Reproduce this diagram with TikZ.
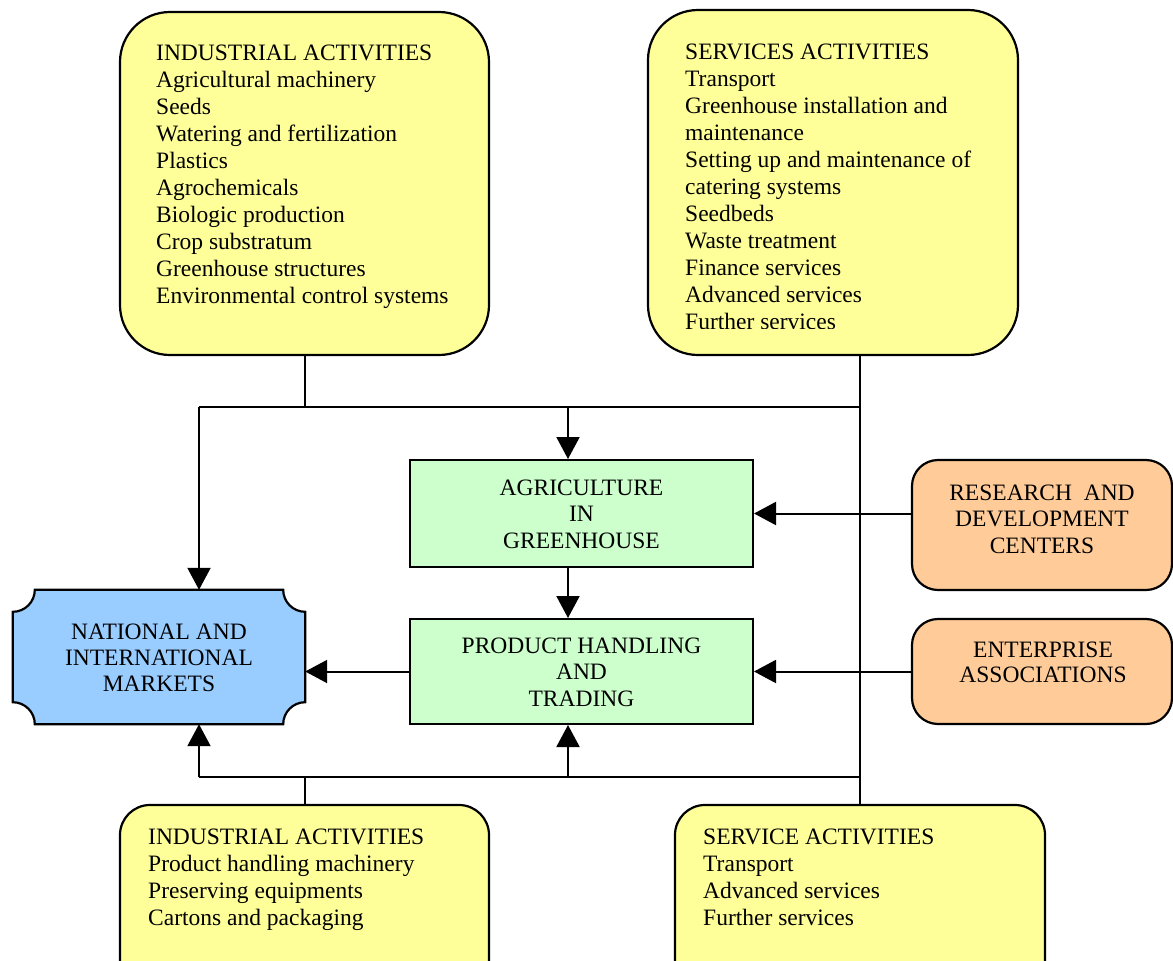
\documentclass[tikz,border=0pt]{standalone}
\usepackage{fontspec}
\setmainfont{Liberation Serif}
\usetikzlibrary{arrows.meta,calc}
\definecolor{yel}{HTML}{FFFF99}
\definecolor{grn}{HTML}{CCFFCC}
\definecolor{blu}{HTML}{99CCFF}
\definecolor{org}{HTML}{FFCC99}
\begin{document}
\begin{tikzpicture}[x=1pt,y=-1pt,
  box/.style={draw=black, line width=2.2pt, inner sep=0pt},
  ybox/.style={box, fill=yel},
  gbox/.style={box, fill=grn, line width=2pt},
  obox/.style={box, fill=org, rounded corners=26pt},
  txt/.style={inner sep=0pt, font=\fontsize{23.5}{27}\selectfont},
  ltxt/.style={txt, align=left, anchor=base west},
  ctxt/.style={txt, align=center, anchor=base},
  conn/.style={line width=2pt},
  arr/.style={conn, -{Triangle[length=22pt,width=23pt]}}]
\useasboundingbox (0,0) rectangle (1173,961);
\clip (0,0) rectangle (1173,961);

% boxes
\node[ybox, rounded corners=50pt, minimum width=369pt, minimum height=343pt] (tl) at (304.5,183.5) {};
\node[ybox, rounded corners=50pt, minimum width=370pt, minimum height=345pt] (tr) at (833,182.5) {};
\node[gbox, minimum width=343pt, minimum height=107pt] (ag) at (581.5,513.5) {};
\node[gbox, minimum width=343pt, minimum height=105pt] (ph) at (581.5,671.5) {};
\node[inner sep=0pt, minimum width=292pt, minimum height=134pt] (mk) at (159,657) {};
\draw[fill=blu, line width=2.2pt] ($(mk.north west)+(22,0)$) -- ($(mk.north east)+(-22,0)$)
  arc[start angle=180,end angle=90,radius=22] -- ($(mk.south east)+(0,-22)$)
  arc[start angle=270,end angle=180,radius=22] -- ($(mk.south west)+(22,0)$)
  arc[start angle=0,end angle=-90,radius=22] -- ($(mk.north west)+(0,22)$)
  arc[start angle=90,end angle=0,radius=22] -- cycle;
\node[obox, minimum width=260pt, minimum height=130pt] (rd) at (1042,525) {};
\node[obox, minimum width=260pt, minimum height=105pt] (ea) at (1042,671.5) {};
\node[ybox, rounded corners=30pt, minimum width=369pt, minimum height=200pt] (bl) at (304.5,905) {};
\node[ybox, rounded corners=30pt, minimum width=370pt, minimum height=200pt] (br) at (860,905) {};

% texts (base anchor = baseline of last line)
\node[ltxt] (tlT) at (156,303) {INDUSTRIAL ACTIVITIES\\Agricultural machinery\\Seeds\\Watering and fertilization\\Plastics\\Agrochemicals\\Biologic production\\Crop substratum\\Greenhouse structures\\Environmental control systems};
\begin{scope}
\clip (648,10) rectangle (1018,328);
\node[ltxt] (trT) at (685,329) {SERVICES ACTIVITIES\\Transport\\Greenhouse installation and\\maintenance\\Setting up and maintenance of\\catering systems\\Seedbeds\\Waste treatment\\Finance services\\Advanced services\\Further services};
\end{scope}
\node[ctxt] (agT) at (581.5,548) {AGRICULTURE\\[-0.5pt]IN\\[-0.5pt]GREENHOUSE};
\node[ctxt] (phT) at (581.5,706) {PRODUCT HANDLING\\[-0.5pt]AND\\[-0.5pt]TRADING};
\node[ctxt] (mkT) at (159,691) {NATIONAL AND\\[-1pt]INTERNATIONAL\\[-1pt]MARKETS};
\node[ctxt] (rdT) at (1042,553) {RESEARCH\ \ AND\\[-0.5pt]DEVELOPMENT\\[-0.5pt]CENTERS};
\node[ctxt] (eaT) at (1043,682) {ENTERPRISE\\[-2pt]ASSOCIATIONS};
\node[ltxt] (blT) at (148,925) {INDUSTRIAL ACTIVITIES\\Product handling machinery\\Preserving equipments\\Cartons and packaging};
\node[ltxt] (brT) at (703,925) {SERVICE ACTIVITIES\\Transport\\Advanced services\\Further services};

% junctions
\coordinate (jTL) at (304.5,407);
\coordinate (jLT) at (199,407);
\coordinate (jA) at (568,407);
\coordinate (jTR) at (860,407);
\coordinate (jBL) at (304.5,777);
\coordinate (jLB) at (199,777);
\coordinate (jB) at (568,777);
\coordinate (jBR) at (860,777);

% connectors
\draw[conn] (tl.south) -- (jTL);
\draw[conn] (jLT) -- (jTR);
\draw[conn] (tr.south -| br.north) -- (br.north);
\draw[arr] (jLT) -- (jLT |- mk.north);
\draw[arr] (jA) -- (jA |- ag.north);
\draw[arr] (jA |- ag.south) -- (jA |- ph.north);
\draw[arr] (ph.west) -- (ph.west -| mk.east);
\draw[arr] (ag.east -| rd.west) -- (ag.east);
\draw[arr] (ea.west) -- (ph.east);
\draw[conn] (jLB) -- (jBR);
\draw[conn] (bl.north) -- (jBL);
\draw[arr] (jLB) -- (jLB |- mk.south);
\draw[arr] (jB) -- (jB |- ph.south);
\end{tikzpicture}
\end{document}
